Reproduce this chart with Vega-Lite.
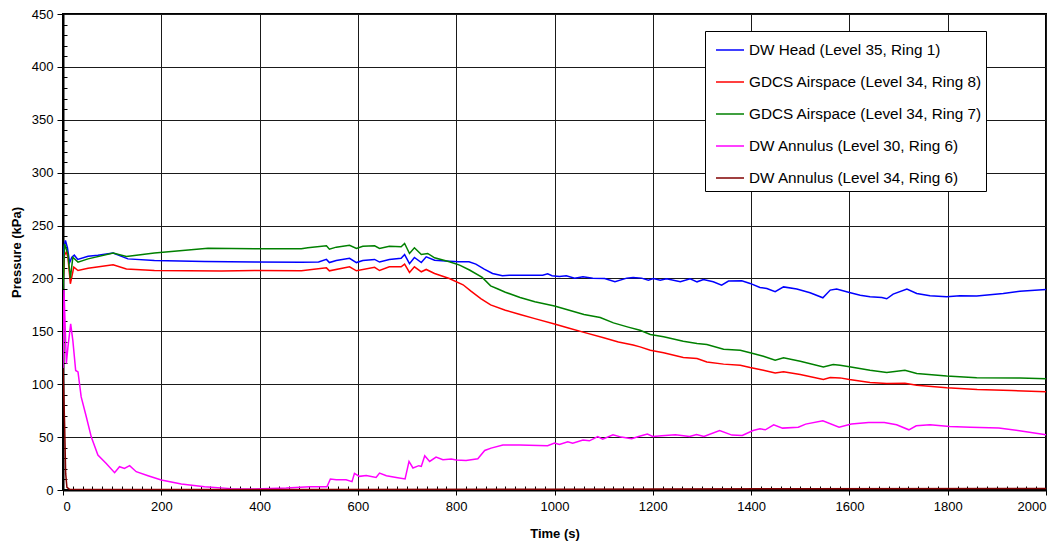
{
  "$schema": "https://vega.github.io/schema/vega-lite/v6.json",
  "width": 983,
  "height": 476,
  "autosize": {"type": "none"},
  "padding": {"left": 63, "top": 14, "right": 17, "bottom": 53},
  "background": "#ffffff",
  "datasets": {
    "names": [
      {"id": 1, "name": "DW Head (Level 35, Ring 1)"},
      {"id": 2, "name": "GDCS Airspace (Level 34, Ring 8)"},
      {"id": 3, "name": "GDCS Airspace (Level 34, Ring 7)"},
      {"id": 4, "name": "DW Annulus (Level 30, Ring 6)"},
      {"id": 5, "name": "DW Annulus (Level 34, Ring 6)"}
    ],
    "pts": [
      {"id":1,"t":0,"p":200},{"id":1,"t":2,"p":230},{"id":1,"t":5,"p":236},{"id":1,"t":9,"p":229},{"id":1,"t":13.5,"p":215},{"id":1,"t":18,"p":220},{"id":1,"t":23,"p":222},{"id":1,"t":30,"p":218},{"id":1,"t":51,"p":221},{"id":1,"t":71,"p":222},{"id":1,"t":102,"p":224},{"id":1,"t":132,"p":218.5},{"id":1,"t":186,"p":217},{"id":1,"t":288,"p":216},{"id":1,"t":390,"p":215.5},{"id":1,"t":485,"p":215.4},{"id":1,"t":520,"p":215.5},{"id":1,"t":536,"p":218},{"id":1,"t":542,"p":215},{"id":1,"t":556,"p":217},{"id":1,"t":583,"p":219},{"id":1,"t":597,"p":215},{"id":1,"t":610,"p":217},{"id":1,"t":634,"p":218},{"id":1,"t":644,"p":215.5},{"id":1,"t":664,"p":218},{"id":1,"t":688,"p":219},{"id":1,"t":695,"p":222.6},{"id":1,"t":705,"p":214},{"id":1,"t":715,"p":219.8},{"id":1,"t":729,"p":215},{"id":1,"t":739,"p":220.4},{"id":1,"t":756,"p":217.3},{"id":1,"t":786,"p":216.3},{"id":1,"t":805,"p":215.7},{"id":1,"t":826,"p":215.7},{"id":1,"t":840,"p":213.5},{"id":1,"t":857,"p":208.8},{"id":1,"t":874,"p":204.7},{"id":1,"t":894,"p":202.5},{"id":1,"t":908,"p":203},{"id":1,"t":976,"p":203},{"id":1,"t":986,"p":204.4},{"id":1,"t":995,"p":202.5},{"id":1,"t":1010,"p":201.9},{"id":1,"t":1024,"p":202.5},{"id":1,"t":1041,"p":200.3},{"id":1,"t":1058,"p":201.6},{"id":1,"t":1078,"p":200.3},{"id":1,"t":1102,"p":200},{"id":1,"t":1123,"p":196.8},{"id":1,"t":1147,"p":200.3},{"id":1,"t":1160,"p":201},{"id":1,"t":1177,"p":200.3},{"id":1,"t":1191,"p":198.4},{"id":1,"t":1201,"p":200},{"id":1,"t":1215,"p":198.4},{"id":1,"t":1228,"p":199.7},{"id":1,"t":1256,"p":196.8},{"id":1,"t":1276,"p":199.7},{"id":1,"t":1290,"p":196.8},{"id":1,"t":1303,"p":199},{"id":1,"t":1323,"p":196.8},{"id":1,"t":1340,"p":193.7},{"id":1,"t":1354,"p":197.5},{"id":1,"t":1381,"p":197.8},{"id":1,"t":1398,"p":195.3},{"id":1,"t":1418,"p":191.5},{"id":1,"t":1432,"p":190.5},{"id":1,"t":1449,"p":187.4},{"id":1,"t":1466,"p":192},{"id":1,"t":1493,"p":190},{"id":1,"t":1520,"p":186.4},{"id":1,"t":1546,"p":181.7},{"id":1,"t":1561,"p":189},{"id":1,"t":1574,"p":190},{"id":1,"t":1600,"p":186.8},{"id":1,"t":1622,"p":184.2},{"id":1,"t":1642,"p":182.7},{"id":1,"t":1666,"p":182},{"id":1,"t":1676,"p":180.8},{"id":1,"t":1689,"p":185.2},{"id":1,"t":1717,"p":190},{"id":1,"t":1737,"p":185.8},{"id":1,"t":1764,"p":183.6},{"id":1,"t":1798,"p":182.7},{"id":1,"t":1825,"p":183.6},{"id":1,"t":1859,"p":183.3},{"id":1,"t":1913,"p":185.8},{"id":1,"t":1947,"p":188},{"id":1,"t":2000,"p":189.6},
      {"id":2,"t":0,"p":195},{"id":2,"t":3,"p":222},{"id":2,"t":6.8,"p":225},{"id":2,"t":10,"p":220},{"id":2,"t":15,"p":195},{"id":2,"t":22,"p":210.7},{"id":2,"t":30.5,"p":207.5},{"id":2,"t":51,"p":209.7},{"id":2,"t":102,"p":213},{"id":2,"t":129,"p":209},{"id":2,"t":186,"p":207.5},{"id":2,"t":322,"p":207},{"id":2,"t":390,"p":207.5},{"id":2,"t":485,"p":207.2},{"id":2,"t":536,"p":210},{"id":2,"t":542,"p":207.2},{"id":2,"t":583,"p":211},{"id":2,"t":597,"p":207.2},{"id":2,"t":634,"p":210.5},{"id":2,"t":644,"p":207.5},{"id":2,"t":664,"p":211},{"id":2,"t":688,"p":211},{"id":2,"t":695,"p":213.5},{"id":2,"t":705,"p":205.7},{"id":2,"t":715,"p":211},{"id":2,"t":729,"p":206.3},{"id":2,"t":739,"p":208.5},{"id":2,"t":756,"p":204.7},{"id":2,"t":786,"p":200},{"id":2,"t":814,"p":194},{"id":2,"t":830,"p":188},{"id":2,"t":850,"p":181},{"id":2,"t":870,"p":175},{"id":2,"t":900,"p":170},{"id":2,"t":930,"p":166},{"id":2,"t":960,"p":162},{"id":2,"t":1000,"p":157},{"id":2,"t":1030,"p":153},{"id":2,"t":1060,"p":149},{"id":2,"t":1100,"p":144},{"id":2,"t":1130,"p":140},{"id":2,"t":1160,"p":137},{"id":2,"t":1174,"p":135.3},{"id":2,"t":1195,"p":132.2},{"id":2,"t":1222,"p":129.7},{"id":2,"t":1262,"p":125.2},{"id":2,"t":1290,"p":124.3},{"id":2,"t":1310,"p":121.1},{"id":2,"t":1344,"p":119},{"id":2,"t":1378,"p":118},{"id":2,"t":1398,"p":115.8},{"id":2,"t":1425,"p":113.3},{"id":2,"t":1449,"p":110.7},{"id":2,"t":1466,"p":111.7},{"id":2,"t":1500,"p":109.1},{"id":2,"t":1547,"p":104.4},{"id":2,"t":1561,"p":106.3},{"id":2,"t":1581,"p":106},{"id":2,"t":1600,"p":104.5},{"id":2,"t":1642,"p":101.7},{"id":2,"t":1676,"p":100.7},{"id":2,"t":1713,"p":101},{"id":2,"t":1737,"p":99.1},{"id":2,"t":1798,"p":96.6},{"id":2,"t":1860,"p":95},{"id":2,"t":1930,"p":94},{"id":2,"t":2000,"p":93},
      {"id":3,"t":0,"p":190},{"id":3,"t":3.4,"p":232.7},{"id":3,"t":10,"p":223},{"id":3,"t":15,"p":200},{"id":3,"t":20,"p":220},{"id":3,"t":30.5,"p":215.4},{"id":3,"t":51,"p":218.5},{"id":3,"t":102,"p":224},{"id":3,"t":129,"p":220.8},{"id":3,"t":186,"p":224},{"id":3,"t":295,"p":228.6},{"id":3,"t":390,"p":228},{"id":3,"t":485,"p":228},{"id":3,"t":498,"p":229},{"id":3,"t":536,"p":230.8},{"id":3,"t":542,"p":227.7},{"id":3,"t":556,"p":229.6},{"id":3,"t":583,"p":231.4},{"id":3,"t":597,"p":228.3},{"id":3,"t":610,"p":230.5},{"id":3,"t":634,"p":230.8},{"id":3,"t":644,"p":228.3},{"id":3,"t":664,"p":230.5},{"id":3,"t":688,"p":229.9},{"id":3,"t":695,"p":233},{"id":3,"t":705,"p":223.6},{"id":3,"t":715,"p":229},{"id":3,"t":729,"p":222.6},{"id":3,"t":742,"p":223.6},{"id":3,"t":756,"p":219.5},{"id":3,"t":786,"p":215.7},{"id":3,"t":807,"p":212.6},{"id":3,"t":827,"p":208},{"id":3,"t":853,"p":201},{"id":3,"t":870,"p":193},{"id":3,"t":885,"p":190},{"id":3,"t":900,"p":187},{"id":3,"t":930,"p":182},{"id":3,"t":960,"p":178},{"id":3,"t":1000,"p":174},{"id":3,"t":1030,"p":170},{"id":3,"t":1060,"p":166},{"id":3,"t":1093,"p":163},{"id":3,"t":1120,"p":158},{"id":3,"t":1150,"p":154},{"id":3,"t":1174,"p":151},{"id":3,"t":1195,"p":147},{"id":3,"t":1222,"p":144.8},{"id":3,"t":1262,"p":140.7},{"id":3,"t":1290,"p":138.5},{"id":3,"t":1310,"p":137.5},{"id":3,"t":1344,"p":133},{"id":3,"t":1378,"p":132.2},{"id":3,"t":1398,"p":129.7},{"id":3,"t":1425,"p":126.5},{"id":3,"t":1449,"p":122.7},{"id":3,"t":1466,"p":125},{"id":3,"t":1500,"p":121.8},{"id":3,"t":1547,"p":116.4},{"id":3,"t":1567,"p":118.7},{"id":3,"t":1581,"p":118},{"id":3,"t":1600,"p":116.5},{"id":3,"t":1642,"p":113.3},{"id":3,"t":1676,"p":111.1},{"id":3,"t":1713,"p":113.3},{"id":3,"t":1737,"p":110.2},{"id":3,"t":1798,"p":107.7},{"id":3,"t":1859,"p":106.1},{"id":3,"t":1947,"p":105.8},{"id":3,"t":2000,"p":105.1},
      {"id":4,"t":0,"p":115},{"id":4,"t":2,"p":189},{"id":4,"t":6.8,"p":119.5},{"id":4,"t":10,"p":135},{"id":4,"t":15.6,"p":157},{"id":4,"t":20,"p":141.5},{"id":4,"t":25.8,"p":113},{"id":4,"t":30.5,"p":111.6},{"id":4,"t":37,"p":88},{"id":4,"t":47.5,"p":69},{"id":4,"t":57.6,"p":50},{"id":4,"t":71,"p":33},{"id":4,"t":88,"p":25},{"id":4,"t":105,"p":16.4},{"id":4,"t":115,"p":22},{"id":4,"t":125,"p":20.4},{"id":4,"t":135.6,"p":23},{"id":4,"t":149,"p":17.3},{"id":4,"t":173,"p":13.5},{"id":4,"t":200,"p":9.4},{"id":4,"t":240.7,"p":5.7},{"id":4,"t":288,"p":3.1},{"id":4,"t":342,"p":1.3},{"id":4,"t":390,"p":1},{"id":4,"t":454,"p":1.9},{"id":4,"t":502,"p":3.1},{"id":4,"t":537,"p":3.1},{"id":4,"t":544,"p":10.4},{"id":4,"t":556,"p":9.7},{"id":4,"t":576,"p":9.7},{"id":4,"t":588,"p":7.9},{"id":4,"t":593,"p":15.7},{"id":4,"t":603,"p":12.9},{"id":4,"t":617,"p":13.8},{"id":4,"t":637,"p":11.9},{"id":4,"t":644,"p":16},{"id":4,"t":658,"p":13.5},{"id":4,"t":678,"p":11.9},{"id":4,"t":696,"p":10.4},{"id":4,"t":704,"p":27},{"id":4,"t":712,"p":20.8},{"id":4,"t":724,"p":23},{"id":4,"t":729,"p":22.3},{"id":4,"t":736,"p":32.4},{"id":4,"t":746,"p":27},{"id":4,"t":759,"p":31.1},{"id":4,"t":773,"p":28.6},{"id":4,"t":790,"p":29.2},{"id":4,"t":800,"p":28.3},{"id":4,"t":820,"p":28},{"id":4,"t":844,"p":29.6},{"id":4,"t":858,"p":37.4},{"id":4,"t":871,"p":39.6},{"id":4,"t":895,"p":42.5},{"id":4,"t":929,"p":42.5},{"id":4,"t":986,"p":41.8},{"id":4,"t":1000,"p":44.3},{"id":4,"t":1010,"p":43},{"id":4,"t":1027,"p":45.6},{"id":4,"t":1037,"p":44.3},{"id":4,"t":1058,"p":47.2},{"id":4,"t":1071,"p":46.5},{"id":4,"t":1088,"p":50.6},{"id":4,"t":1098,"p":48.1},{"id":4,"t":1119,"p":52.2},{"id":4,"t":1136,"p":50},{"id":4,"t":1157,"p":48.4},{"id":4,"t":1171,"p":50.6},{"id":4,"t":1189,"p":52.8},{"id":4,"t":1200,"p":50.6},{"id":4,"t":1218,"p":51.3},{"id":4,"t":1246,"p":52.2},{"id":4,"t":1275,"p":50.6},{"id":4,"t":1289,"p":52.5},{"id":4,"t":1304,"p":50.6},{"id":4,"t":1336,"p":56.3},{"id":4,"t":1361,"p":51.9},{"id":4,"t":1382,"p":51.6},{"id":4,"t":1404,"p":56.3},{"id":4,"t":1418,"p":57.9},{"id":4,"t":1429,"p":56.9},{"id":4,"t":1446,"p":61.6},{"id":4,"t":1464,"p":58.5},{"id":4,"t":1496,"p":59.4},{"id":4,"t":1511,"p":62.3},{"id":4,"t":1546,"p":65.4},{"id":4,"t":1579,"p":59.4},{"id":4,"t":1604,"p":62.3},{"id":4,"t":1639,"p":63.8},{"id":4,"t":1671,"p":63.8},{"id":4,"t":1696,"p":61.6},{"id":4,"t":1721,"p":56.9},{"id":4,"t":1736,"p":60.7},{"id":4,"t":1764,"p":61.6},{"id":4,"t":1804,"p":60},{"id":4,"t":1846,"p":59.4},{"id":4,"t":1904,"p":58.5},{"id":4,"t":1946,"p":56},{"id":4,"t":2000,"p":52.2},
      {"id":5,"t":0,"p":115},{"id":5,"t":3.4,"p":60},{"id":5,"t":5.4,"p":15.7},{"id":5,"t":8,"p":2.5},{"id":5,"t":13.5,"p":0.6},{"id":5,"t":500,"p":0.5},{"id":5,"t":1000,"p":0.7},{"id":5,"t":1500,"p":1.2},{"id":5,"t":2000,"p":1.5}
    ]
  },
  "data": {"name": "pts"},
  "transform": [
    {"lookup": "id", "from": {"data": {"name": "names"}, "key": "id", "fields": ["name"]}}
  ],
  "mark": {"type": "line", "strokeWidth": 1.5, "clip": true},
  "encoding": {
    "x": {
      "field": "t", "type": "quantitative", "title": "Time (s)",
      "scale": {"domain": [0, 2000], "nice": false},
      "axis": {
        "values": [0,20,40,60,80,100,120,140,160,180,200,220,240,260,280,300,320,340,360,380,400,420,440,460,480,500,520,540,560,580,600,620,640,660,680,700,720,740,760,780,800,820,840,860,880,900,920,940,960,980,1000,1020,1040,1060,1080,1100,1120,1140,1160,1180,1200,1220,1240,1260,1280,1300,1320,1340,1360,1380,1400,1420,1440,1460,1480,1500,1520,1540,1560,1580,1600,1620,1640,1660,1680,1700,1720,1740,1760,1780,1800,1820,1840,1860,1880,1900,1920,1940,1960,1980,2000],
        "format": "d",
        "labelExpr": "datum.value % 200 === 0 ? datum.label : ''",
        "labelOverlap": false,
        "gridOpacity": {"condition": {"test": "datum.value % 200 === 0", "value": 1}, "value": 0},
        "tickSize": {"condition": {"test": "datum.value % 200 === 0", "value": 5}, "value": -4},
        "labelPadding": 5,
        "titlePadding": 14
      }
    },
    "y": {
      "field": "p", "type": "quantitative", "title": "Pressure (kPa)",
      "scale": {"domain": [0, 450], "nice": false},
      "axis": {
        "values": [0,10,20,30,40,50,60,70,80,90,100,110,120,130,140,150,160,170,180,190,200,210,220,230,240,250,260,270,280,290,300,310,320,330,340,350,360,370,380,390,400,410,420,430,440,450],
        "format": "d",
        "labelExpr": "datum.value % 50 === 0 ? datum.label : ''",
        "labelOverlap": false,
        "gridOpacity": {"condition": {"test": "datum.value % 50 === 0", "value": 1}, "value": 0},
        "tickSize": {"condition": {"test": "datum.value % 50 === 0", "value": 6}, "value": -4},
        "labelPadding": 4,
        "titlePadding": 8
      }
    },
    "color": {
      "field": "name", "type": "nominal",
      "scale": {
        "domain": ["DW Head (Level 35, Ring 1)", "GDCS Airspace (Level 34, Ring 8)", "GDCS Airspace (Level 34, Ring 7)", "DW Annulus (Level 30, Ring 6)", "DW Annulus (Level 34, Ring 6)"],
        "range": ["#0000ff", "#ff0000", "#008000", "#ff00ff", "#800000"]
      },
      "legend": {
        "title": null,
        "orient": "none",
        "legendX": 642,
        "legendY": 17,
        "strokeColor": "#000000",
        "fillColor": "#ffffff",
        "padding": 4,
        "symbolOffset": 6,
        "symbolType": "stroke",
        "symbolSize": 784,
        "symbolStrokeWidth": 1.5,
        "labelFont": "Liberation Sans",
        "labelFontSize": 15.3,
        "labelColor": "#000000",
        "labelOffset": 4,
        "labelLimit": 400,
        "rowPadding": 8
      }
    }
  },
  "config": {
    "view": {"stroke": "#000000", "strokeWidth": 2},
    "axis": {
      "domainColor": "#000000",
      "domainWidth": 2,
      "tickColor": "#000000",
      "tickWidth": 1,
      "gridColor": "#1a1a1a",
      "gridWidth": 1,
      "labelFont": "Liberation Sans",
      "labelFontSize": 13,
      "labelColor": "#000000",
      "titleFont": "Liberation Sans",
      "titleFontSize": 13,
      "titleFontWeight": "bold",
      "titleColor": "#000000"
    }
  }
}
